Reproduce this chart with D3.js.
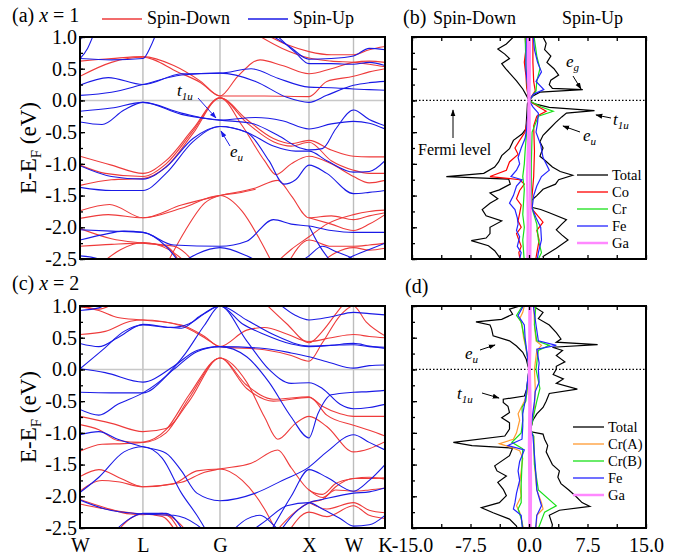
<!DOCTYPE html>
<html><head><meta charset="utf-8">
<script src="https://cdn.jsdelivr.net/npm/d3@7"></script>
<style>body{margin:0;background:#fff}text{font-family:"Liberation Serif","Times New Roman",serif;fill:#000}</style>
</head><body><svg id="c" width="693" height="559"></svg>
<script>
// ---------------- DATA ----------------
const kLabels = ["W","L","G","X","W","K"];
const kDist = [0, 0.707, 1.573, 2.573, 3.073, 3.427];
const eTicks = [1.0, 0.5, 0.0, -0.5, -1.0, -1.5, -2.0, -2.5];
const dosTicks = [-15, -7.5, 0, 7.5, 15];
// band points: [path index (0=W,1=L,2=G,3=X,4=W,5=K), energy eV]
const bandsA_down = [
 [[0,0.62],[0.5,0.66],[1,0.69],[1.4,0.55],[1.75,0.3],[2,0.07],[2.5,0.07],[3,0.06],[3.4,0.3],[4,0.38],[4.5,0.45],[5,0.5]],
 [[0,0.38],[0.5,0.6],[1,0.68],[1.45,0.45],[1.75,0.28],[2,0.07],[2.2,0.38],[2.45,0.64],[2.7,0.55],[3,0.42],[3.5,0.5],[4,0.6],[4.5,0.62],[5,0.6]],
 [[2.5,1.05],[2.75,0.88],[3,0.77],[3.5,0.72],[4,0.72],[4.5,0.8],[5,0.85]],
 [[2.4,1.05],[2.7,0.82],[3,0.67],[3.5,0.62],[4,0.6],[4.5,0.57],[5,0.53]],
 [[0,-0.88],[0.5,-1.02],[1,-1.15],[1.3,-0.95],[1.65,-0.45],[2,0.04],[2.25,-0.4],[2.5,-0.95],[2.63,-1.17],[2.8,-1.0],[3,-0.88],[3.5,-1.0],[4,-1.2],[4.5,-1.3],[5,-1.26]],
 [[0,-1.34],[0.5,-1.25],[1,-1.23],[1.3,-1.05],[1.65,-0.52],[2,0.04],[2.3,-0.3],[2.6,-0.6],[2.8,-0.68],[3,-0.63],[3.5,-0.78],[4,-0.88],[4.5,-0.89],[5,-0.89]],
 [[0,-1.02],[0.4,-1.15],[1,-1.2],[1.3,-1.0],[1.65,-0.48],[2,0.04],[2.3,-0.35],[2.6,-0.65],[2.8,-0.72],[3,-0.66],[3.5,-0.95],[4,-1.1],[4.5,-1.15],[5,-1.15]],
 [[0,-1.74],[0.47,-1.64],[1,-1.85],[1.5,-1.65],[2,-1.5],[2.4,-1.38],[2.65,-1.26],[2.8,-1.5],[3,-1.85],[3.5,-1.82],[4,-1.88],[4.5,-1.82],[5,-1.77]],
 [[0,-1.86],[0.45,-1.8],[1,-1.85],[1.5,-1.7],[2,-1.5],[2.25,-1.75],[2.45,-2.2],[2.6,-2.6]],
 [[1.3,-2.6],[1.55,-2.05],[1.8,-1.62],[2,-1.5],[2.2,-1.46],[2.4,-1.4]],
 [[0,-2.02],[0.5,-2.18],[1,-2.25],[1.4,-2.3],[1.7,-2.6]],
 [[0,-2.3],[0.5,-2.27],[1,-2.25],[1.3,-2.3],[1.5,-2.6]],
 [[0.3,-2.6],[0.65,-2.35],[1,-2.24],[1.35,-2.36],[1.6,-2.6]],
 [[2.6,-2.6],[2.8,-2.35],[3,-2.15],[3.4,-1.95],[4,-1.8],[4.5,-1.75],[5,-1.73]],
 [[3,-1.85],[3.5,-1.95],[4,-2.05],[4.5,-1.95],[5,-1.8]],
 [[2.75,-2.6],[3,-2.2],[3.5,-2.3],[4,-2.3],[4.5,-2.28],[5,-2.25]],
 [[3.2,-2.6],[3.6,-2.4],[4,-2.32],[4.5,-2.36],[5,-2.33]]
];
const bandsA_up = [
 [[0,0.95],[0.06,1.05]],
 [[0,0.66],[0.12,0.82],[0.22,1.05]],
 [[0,0.66],[0.5,0.64],[1,0.66],[1.1,0.85],[1.17,1.05]],
 [[0,0.24],[0.45,0.36],[1,0.25],[1.5,0.42],[2,0.43],[2.35,0.5],[2.65,0.35],[3,0.21],[3.5,0.2],[4,0.18],[4.5,0.17],[5,0.16]],
 [[0,0.08],[0.5,0.13],[1,0.25],[1.5,0.4],[2,0.43],[2.4,0.3],[2.75,0.05],[3,-0.03],[3.4,0.08],[4,0.24],[4.5,0.28],[5,0.3]],
 [[2.62,1.05],[2.85,0.75],[3,0.58],[3.5,0.58],[4,0.57],[4.5,0.6],[5,0.55]],
 [[2.55,1.05],[2.78,0.85],[3,0.65],[3.5,0.66],[4,0.7],[4.5,0.82],[5,0.8]],
 [[0,-0.17],[0.5,-0.12],[1,-0.03],[1.5,-0.2],[2,-0.31],[2.4,-0.27],[2.7,-0.32],[3,-0.45],[3.5,-0.37],[4,-0.33],[4.5,-0.36],[5,-0.45]],
 [[0,-0.34],[0.35,-0.38],[0.7,-0.15],[1,-0.03],[1.5,-0.22],[2,-0.31],[2.35,-0.36],[2.65,-0.55],[2.9,-0.75],[3,-0.78],[3.3,-0.76],[3.6,-0.45],[4,-0.15],[4.5,-0.3],[5,-0.4]],
 [[0,-1.37],[0.5,-1.42],[1,-1.42],[1.3,-1.15],[1.65,-0.65],[2,-0.41],[2.3,-0.5],[2.6,-0.72],[2.85,-0.8],[3,-0.8],[3.4,-0.95],[4,-1.13],[4.5,-1.12],[5,-0.95]],
 [[0,-1.03],[0.5,-1.2],[1,-1.24],[1.3,-1.05],[1.65,-0.6],[2,-0.41],[2.3,-0.5],[2.55,-0.95],[2.72,-1.32],[2.85,-1.25],[3,-1.02],[3.4,-1.15],[4,-1.47],[4.5,-1.45],[5,-1.42]],
 [[0,-2.04],[0.5,-2.06],[1,-2.08],[1.4,-2.28],[2,-2.3],[2.3,-2.22],[2.6,-1.88],[2.8,-1.95],[3,-1.98],[3.5,-2.05],[4,-2.08],[4.5,-2.08],[5,-2.08]],
 [[0,-2.2],[0.35,-2.12],[0.7,-2.06],[1,-2.08],[1.3,-2.3],[1.5,-2.6]],
 [[0,-2.45],[0.3,-2.5],[0.5,-2.6]],
 [[1.45,-2.6],[1.7,-2.42],[2,-2.32],[2.3,-2.45],[2.5,-2.6]],
 [[3,-1.98],[3.2,-2.25],[3.45,-2.5],[3.6,-2.6]],
 [[3.6,-2.6],[4,-2.45],[4.5,-2.35],[5,-2.25]],
 [[2.85,-2.6],[3,-2.45],[3.3,-2.3],[3.6,-2.38],[4,-2.5],[4.3,-2.6]]
];
const bandsC_down = [
 [[0,0.99],[0.3,0.93],[0.6,0.82],[1,0.78],[1.5,0.7],[1.8,0.52],[2,0.36],[2.3,0.62],[2.5,0.66],[2.75,0.56],[3,0.44],[3.5,0.5],[4,0.55],[4.5,0.52],[5,0.5]],
 [[0,0.55],[0.4,0.6],[0.8,0.76],[1,0.78],[1.5,0.69],[1.8,0.5],[2,0.36],[2.5,0.31],[2.8,0.22],[3,0.13],[3.3,0.42],[3.7,0.85],[4,1.0],[4.4,0.75],[5,0.53]],
 [[2.5,1.05],[2.75,0.72],[3,0.42],[3.3,0.6],[3.65,0.92],[3.8,1.05]],
 [[0,1.02],[0.3,0.95],[0.55,1.05]],
 [[0,-0.74],[0.5,-0.85],[1,-0.98],[1.3,-0.93],[1.6,-0.5],[2,0.18],[2.3,-0.2],[2.5,-0.75],[2.65,-1.1],[2.85,-0.85],[3,-0.74],[3.4,-0.9],[4,-1.3],[4.5,-1.25],[5,-1.14]],
 [[0,-0.87],[0.3,-0.95],[0.6,-1.12],[1,-1.15],[1.3,-1.0],[1.6,-0.45],[2,0.18],[2.3,-0.3],[2.6,-0.5],[3,-0.44],[3.3,-0.58],[3.7,-0.7],[4,-0.74],[4.5,-0.74],[5,-0.74]],
 [[0,-1.29],[0.35,-1.18],[0.7,-1.17],[1,-1.15],[1.3,-0.95],[1.6,-0.4],[2,0.18],[2.3,-0.25],[2.6,-0.47],[3,-0.43],[3.4,-0.72],[4,-0.88],[4.5,-0.96],[5,-1.05]],
 [[0,-1.69],[0.3,-1.58],[0.65,-1.72],[1,-1.85],[1.5,-1.78],[1.8,-1.62],[2,-1.57],[2.35,-1.48],[2.65,-1.27],[2.8,-1.55],[3,-1.9],[3.3,-1.97],[3.6,-1.8],[4,-1.72],[4.5,-1.7],[5,-1.73]],
 [[0,-1.92],[0.35,-1.75],[0.6,-1.77],[1,-1.85],[1.4,-1.8],[1.7,-1.6],[2,-1.57],[2.25,-1.75],[2.5,-2.2],[2.65,-2.6]],
 [[0,-2.12],[0.4,-2.2],[1,-2.28],[1.3,-2.3],[1.5,-2.6]],
 [[0,-2.05],[0.4,-2.18],[0.8,-2.28],[1,-2.29],[1.25,-2.27],[1.45,-2.4],[1.6,-2.6]],
 [[0.55,-2.6],[0.8,-2.35],[1,-2.28],[1.25,-2.32],[1.45,-2.6]],
 [[2.6,-2.6],[2.8,-2.3],[3,-2.1],[3.3,-2.05],[3.6,-1.85],[4,-1.72],[4.5,-1.72],[5,-1.71]],
 [[3,-1.9],[3.3,-2.02],[3.6,-1.9],[4,-1.92],[4.5,-1.9],[5,-1.87]],
 [[2.75,-2.6],[3,-2.25],[3.4,-2.32],[4,-2.15],[4.5,-2.3],[5,-2.35]],
 [[3,-2.1],[3.4,-2.2],[4,-2.1],[4.5,-2.22],[5,-2.26]]
];
const bandsC_up = [
 [[0,0.93],[0.3,0.97],[0.45,1.05]],
 [[0,0.41],[0.3,0.36],[0.6,0.5],[1,0.71],[1.3,0.67],[1.5,0.65],[1.75,0.85],[2,1.0],[2.3,0.78],[2.6,0.55],[3,0.37],[3.5,0.38],[4,0.39],[4.5,0.36],[5,0.35]],
 [[0,0.01],[0.35,0.3],[0.7,0.6],[1,0.7],[1.35,0.66],[1.6,0.72],[1.8,0.88],[2,1.0],[2.25,0.72],[2.5,0.55],[2.8,0.4],[3,0.36],[3.5,0.38],[4,0.41],[4.5,0.37],[5,0.33]],
 [[0,0.01],[0.4,-0.05],[1,-0.2],[1.4,0.05],[1.7,0.3],[2,0.36],[2.3,0.2],[2.55,-0.2],[2.8,-0.75],[3,-1.08],[3.2,-0.7],[3.5,-0.4],[4,-0.36],[4.5,-0.35],[5,-0.33]],
 [[0,-0.63],[0.3,-0.72],[0.6,-0.55],[1,-0.37],[1.3,-0.1],[1.55,0.25],[1.8,0.7],[2,1.0],[2.3,0.45],[2.55,0.0],[2.8,-0.22],[3,-0.21],[3.3,-0.3],[3.7,-0.55],[4,-0.62],[4.5,-0.6],[5,-0.55]],
 [[0,-0.36],[0.5,-0.37],[1,-0.37],[1.4,0.0],[1.7,0.28],[2,0.36],[2.5,0.33],[2.8,0.26],[3,0.2],[3.5,0.1],[4,0.02],[4.5,0.06],[5,0.07]],
 [[2.65,1.05],[2.85,0.85],[3,0.78],[3.5,0.83],[4,0.9],[4.5,0.88],[5,0.86]],
 [[0,-1.03],[0.3,-0.98],[0.6,-1.1],[1,-1.22],[1.3,-1.32],[1.5,-1.6],[1.7,-1.95],[2,-2.07],[2.4,-1.95],[2.7,-1.75],[3,-1.54],[3.4,-1.3],[4,-1.03],[4.5,-1.15],[5,-1.27]],
 [[0,-1.94],[0.3,-1.7],[0.7,-1.3],[1,-1.22],[1.25,-1.4],[1.5,-1.95],[1.7,-2.3],[1.85,-2.6]],
 [[0,-2.06],[0.4,-2.2],[1,-2.28],[1.4,-2.3],[1.7,-2.45],[1.85,-2.6]],
 [[0.5,-2.6],[0.75,-2.38],[1,-2.27],[1.3,-2.27],[1.55,-2.6]],
 [[2.55,-2.6],[2.8,-2.0],[3,-1.58],[3.4,-1.7],[4,-1.92],[4.5,-1.75],[5,-1.5]],
 [[2.65,-2.6],[2.85,-2.25],[3,-2.1],[3.3,-2.05],[4,-1.95],[4.5,-1.93],[5,-1.87]],
 [[2.3,-2.6],[2.5,-2.4],[2.75,-2.15],[3,-2.1],[3.3,-2.2],[3.7,-2.35],[4,-2.47],[4.5,-2.45],[5,-2.3]],
 [[2.1,-2.6],[2.3,-2.36],[2.45,-2.3],[2.6,-2.45],[2.7,-2.6]]
];
// DOS curves: [energy eV, DOS states/eV] (spin-down negative)
const dosB_totalDn = [[1.05,-2.0],[1.0,-2.0],[0.89,-2.9],[0.81,-4.0],[0.73,-3.1],[0.66,-2.5],[0.58,-3.5],[0.5,-3.0],[0.42,-2.4],[0.31,-1.6],[0.18,-0.8],[0.06,-0.25],[0.0,0],[-0.05,-0.2],[-0.26,-0.3],[-0.45,-0.4],[-0.53,-0.9],[-0.63,-2.0],[-0.76,-2.5],[-0.87,-3.5],[-0.97,-3.9],[-1.05,-4.4],[-1.15,-5.8],[-1.2,-10.6],[-1.24,-2.6],[-1.32,-2.4],[-1.41,-3.8],[-1.46,-5.0],[-1.55,-4.0],[-1.62,-5.0],[-1.72,-6.0],[-1.82,-5.5],[-1.9,-3.5],[-2.0,-5.0],[-2.1,-5.0],[-2.17,-5.5],[-2.21,-7.4],[-2.29,-5.2],[-2.37,-4.4],[-2.47,-3.8],[-2.55,-3.4]];
const dosB_totalUp = [[1.05,1.8],[1.0,1.8],[0.9,2.2],[0.8,2.0],[0.7,2.8],[0.6,2.3],[0.5,3.2],[0.4,3.8],[0.32,2.8],[0.25,2.6],[0.19,3.0],[0.17,6.9],[0.13,1.4],[0.07,0.5],[0.0,0],[-0.05,0.6],[-0.11,2.6],[-0.16,8.4],[-0.2,4.8],[-0.26,4.2],[-0.35,3.4],[-0.45,2.6],[-0.55,1.8],[-0.65,1.4],[-0.75,1.8],[-0.88,1.4],[-0.95,2.1],[-1.05,3.0],[-1.12,4.0],[-1.18,5.6],[-1.25,3.8],[-1.32,3.4],[-1.4,1.8],[-1.5,1.0],[-1.58,0.3],[-1.68,0.2],[-1.72,1.5],[-1.77,2.6],[-1.88,4.8],[-1.95,4.2],[-2.04,3.5],[-2.12,4.2],[-2.2,5.0],[-2.33,3.5],[-2.46,1.8],[-2.55,2.0]];
const dosB_CoDn = [[1.05,-0.5],[0.8,-0.4],[0.6,-0.6],[0.4,-0.4],[0.2,-0.3],[0.0,0],[-0.3,-0.2],[-0.5,-0.5],[-0.63,-1.2],[-0.75,-1.8],[-0.85,-1.4],[-0.97,-2.5],[-1.1,-2.9],[-1.2,-5.0],[-1.25,-1.2],[-1.32,-0.6],[-1.42,-1.2],[-1.55,-1.6],[-1.65,-1.0],[-1.78,-1.2],[-1.9,-1.4],[-2.0,-1.0],[-2.1,-1.6],[-2.2,-1.3],[-2.3,-1.0],[-2.4,-1.3],[-2.55,-1.1]];
const dosB_CoUp = [[1.05,0.5],[0.6,0.5],[0.3,0.6],[0.15,0.8],[0.0,0],[-0.1,1.2],[-0.17,2.2],[-0.25,1.0],[-0.4,0.6],[-0.8,0.7],[-1.2,0.6],[-1.5,0.4],[-1.7,0.3],[-1.8,1.0],[-1.92,1.8],[-2.05,1.0],[-2.2,1.3],[-2.55,0.8]];
const dosB_CrDn = [[1.05,-0.5],[0.6,-0.4],[0.2,-0.2],[0.0,0],[-0.5,-0.3],[-0.8,-0.5],[-1.0,-0.6],[-1.2,-0.8],[-1.4,-0.6],[-1.6,-0.7],[-1.8,-0.8],[-2.0,-0.6],[-2.2,-0.8],[-2.55,-0.6]];
const dosB_CrUp = [[1.05,0.6],[0.7,1.0],[0.5,1.4],[0.3,1.0],[0.15,0.9],[0.0,0],[-0.1,1.5],[-0.17,3.1],[-0.25,1.2],[-0.5,0.4],[-1.0,0.3],[-1.5,0.3],[-1.75,0.5],[-1.95,1.0],[-2.2,1.2],[-2.4,1.6],[-2.55,1.0]];
const dosB_FeDn = [[1.05,-0.3],[0.5,-0.4],[0.0,0],[-0.45,-0.3],[-0.6,-0.5],[-0.75,-1.0],[-0.9,-1.4],[-1.0,-1.2],[-1.1,-1.6],[-1.2,-2.3],[-1.25,-0.9],[-1.35,-1.6],[-1.5,-2.0],[-1.62,-2.5],[-1.72,-1.8],[-1.85,-1.5],[-1.95,-1.4],[-2.05,-1.6],[-2.15,-1.2],[-2.3,-1.5],[-2.4,-1.0],[-2.55,-1.3]];
const dosB_FeUp = [[1.05,0.5],[0.8,0.7],[0.6,1.1],[0.45,1.6],[0.3,0.9],[0.17,1.9],[0.1,0.6],[0.0,0],[-0.1,0.5],[-0.2,1.2],[-0.35,1.1],[-0.5,0.9],[-0.7,1.5],[-0.9,1.8],[-1.1,2.6],[-1.2,1.6],[-1.35,1.0],[-1.5,0.6],[-1.7,0.4],[-1.85,0.9],[-2.0,1.5],[-2.2,1.6],[-2.4,1.2],[-2.55,1.0]];
const dosB_GaDn = [[1.05,-0.15],[0.5,-0.12],[0.0,-0.05],[-0.6,-0.1],[-1.2,-0.25],[-1.8,-0.15],[-2.55,-0.2]];
const dosB_GaUp = [[1.05,0.12],[0.5,0.1],[0.0,0.05],[-0.6,0.1],[-1.2,0.12],[-1.9,0.2],[-2.55,0.15]];

const dosD_totalDn = [[1.05,-1.2],[1.0,-1.2],[0.95,-2.5],[0.87,-2.1],[0.79,-3.5],[0.75,-6.8],[0.7,-5.0],[0.64,-4.8],[0.53,-4.6],[0.45,-2.5],[0.37,-1.6],[0.27,-0.8],[0.16,-0.35],[0.06,-0.15],[0.0,0],[-0.15,-0.15],[-0.31,-0.3],[-0.42,-0.6],[-0.47,-3.3],[-0.52,-3.3],[-0.58,-2.7],[-0.68,-2.5],[-0.76,-3.5],[-0.84,-2.5],[-0.94,-2.5],[-1.05,-3.1],[-1.15,-9.7],[-1.2,-7.3],[-1.24,-2.1],[-1.36,-2.5],[-1.52,-4.4],[-1.6,-4.1],[-1.68,-2.9],[-1.78,-4.0],[-1.89,-3.3],[-1.99,-2.9],[-2.1,-3.8],[-2.18,-6.1],[-2.26,-4.6],[-2.36,-2.5],[-2.47,-1.6],[-2.57,-1.4]];
const dosD_totalUp = [[1.05,0.5],[1.0,0.5],[0.9,1.8],[0.8,1.2],[0.7,2.6],[0.58,3.5],[0.48,4.1],[0.43,3.5],[0.39,8.8],[0.35,3.0],[0.3,4.3],[0.22,3.5],[0.12,4.6],[0.05,3.5],[0.0,3.5],[-0.08,3.1],[-0.15,4.4],[-0.22,3.5],[-0.31,6.2],[-0.38,2.6],[-0.5,2.2],[-0.6,1.8],[-0.7,1.0],[-0.8,0.5],[-0.9,0.3],[-0.98,0.1],[-1.02,1.8],[-1.1,2.0],[-1.2,2.4],[-1.3,2.2],[-1.4,2.6],[-1.5,3.0],[-1.6,3.9],[-1.7,3.7],[-1.8,4.1],[-1.9,5.1],[-2.0,6.0],[-2.1,6.8],[-2.16,7.8],[-2.22,3.9],[-2.3,2.6],[-2.45,3.0],[-2.57,2.8]];
const dosD_CrADn = [[1.05,-0.5],[0.9,-0.8],[0.8,-1.2],[0.7,-0.9],[0.5,-0.7],[0.4,-0.5],[0.2,-0.2],[0.0,0],[-0.4,-0.3],[-0.5,-0.6],[-0.6,-1.0],[-0.7,-1.4],[-0.8,-1.2],[-1.0,-1.6],[-1.1,-2.0],[-1.17,-3.8],[-1.22,-2.5],[-1.28,-1.2],[-1.4,-0.8],[-1.6,-1.0],[-1.8,-1.2],[-2.0,-1.0],[-2.15,-1.6],[-2.25,-1.2],[-2.4,-0.9],[-2.57,-0.6]];
const dosD_CrAUp = [[1.05,0.6],[0.7,0.7],[0.45,0.9],[0.38,1.6],[0.3,1.0],[0.1,0.8],[0.0,0.7],[-0.3,0.8],[-0.6,0.7],[-0.95,0.2],[-1.0,0.1],[-1.05,0.6],[-1.5,0.7],[-1.9,1.0],[-2.1,1.6],[-2.2,1.8],[-2.3,1.0],[-2.57,0.9]];
const dosD_CrBDn = [[1.05,-0.6],[0.85,-1.6],[0.75,-1.0],[0.5,-0.6],[0.2,-0.2],[0.0,0],[-0.5,-0.4],[-0.6,-0.9],[-0.8,-0.8],[-1.0,-1.0],[-1.15,-2.2],[-1.25,-0.8],[-1.5,-0.9],[-1.8,-1.0],[-2.1,-1.0],[-2.2,-1.4],[-2.35,-1.0],[-2.57,-0.7]];
const dosD_CrBUp = [[1.05,0.9],[0.7,0.7],[0.45,1.0],[0.38,2.6],[0.3,1.2],[0.1,1.0],[0.0,0.9],[-0.3,1.4],[-0.5,1.0],[-0.95,0.2],[-1.05,0.6],[-1.5,0.7],[-1.9,1.2],[-2.15,3.5],[-2.25,2.0],[-2.57,1.0]];
const dosD_FeDn = [[1.05,-0.5],[0.85,-1.4],[0.7,-0.6],[0.5,-0.5],[0.2,-0.2],[0.0,0],[-0.5,-0.5],[-0.7,-0.8],[-0.9,-0.8],[-1.1,-0.9],[-1.2,-2.7],[-1.27,-0.6],[-1.45,-1.2],[-1.6,-1.4],[-1.75,-1.2],[-1.95,-1.6],[-2.1,-1.8],[-2.2,-2.0],[-2.3,-1.0],[-2.57,-0.8]];
const dosD_FeUp = [[1.05,0.5],[0.7,0.9],[0.45,1.2],[0.38,3.5],[0.32,1.0],[0.1,1.3],[0.0,1.2],[-0.2,1.3],[-0.35,0.8],[-0.5,0.7],[-0.95,0.2],[-1.05,0.5],[-1.5,0.8],[-1.9,1.0],[-2.15,1.6],[-2.3,1.0],[-2.57,0.8]];
const dosD_GaDn = [[1.05,0.05],[0.5,0.05],[0.0,0.0],[-0.6,0.05],[-1.2,0.0],[-1.9,0.05],[-2.57,0.05]];
const dosD_GaUp = [[1.05,0.2],[0.5,0.18],[0.0,0.1],[-0.6,0.2],[-1.2,0.22],[-1.9,0.25],[-2.57,0.2]];
const legendB = ["Total","Co","Cr","Fe","Ga"];
const legendD = ["Total","Cr(A)","Cr(B)","Fe","Ga"];

// ---------------- DRAWING ----------------
const svg = d3.select("#c");
const RED = "#ee3b3b", BLUE = "#1a1ae6";
const bandRange = [80, 385], dosRange = [412, 646];
const rows = [[37, 259], [306, 528]];
const tPos = d3.scaleLinear().domain([0,1,2,3,4,5]).range(kDist);
const xK = d3.scaleLinear().domain([0, kDist[5]]).range(bandRange);
const xD = d3.scaleLinear().domain([-15, 15]).range(dosRange);
const defs = svg.append("defs");
["#000", BLUE].forEach((c, i) => {
  defs.append("marker").attr("id", "ar" + i).attr("viewBox", "0 0 10 10").attr("refX", 9).attr("refY", 5)
    .attr("markerWidth", 7).attr("markerHeight", 7).attr("orient", "auto-start-reverse")
    .append("path").attr("d", "M0,1.5L10,5L0,8.5Z").attr("fill", c);
});
function yScale(r){ return d3.scaleLinear().domain([-2.5, 1]).range([rows[r][1], rows[r][0]]); }
function clip(id, x0, x1, r){
  defs.append("clipPath").attr("id", id).append("rect").attr("x", x0).attr("y", rows[r][0]).attr("width", x1 - x0).attr("height", rows[r][1] - rows[r][0]);
}
function leftTicks(g, y, x0, labels){
  const minor = d3.range(-2.5, 1.001, 0.25);
  g.append("g").attr("transform", `translate(${x0},0)`)
    .call(d3.axisLeft(y).tickValues(minor).tickSizeInner(-3).tickSizeOuter(0).tickFormat(""))
    .call(s => s.select(".domain").remove()).selectAll("line").attr("stroke-width", 1.3);
  const ax = g.append("g").attr("transform", `translate(${x0},0)`)
    .call(d3.axisLeft(y).tickValues(eTicks).tickSizeInner(-5).tickSizeOuter(0).tickPadding(3).tickFormat(labels ? (d => d.toFixed(1)) : ""));
  ax.select(".domain").remove();
  ax.selectAll("line").attr("stroke-width", 1.3);
  ax.selectAll("text").attr("font-size", 20).attr("font-family", "Liberation Serif");
}
function frame(g, x0, x1, r){
  g.append("rect").attr("x", x0).attr("y", rows[r][0]).attr("width", x1 - x0).attr("height", rows[r][1] - rows[r][0])
    .attr("fill", "none").attr("stroke", "#000").attr("stroke-width", 2);
}
function bandPanel(r, down, up, showX){
  const y = yScale(r), g = svg.append("g");
  const cid = "cb" + r; clip(cid, bandRange[0], bandRange[1], r);
  const gc = g.append("g").attr("clip-path", `url(#${cid})`);
  gc.selectAll("line.v").data(kDist.slice(1, 5)).join("line").attr("x1", d => xK(d)).attr("x2", d => xK(d))
    .attr("y1", rows[r][0]).attr("y2", rows[r][1]).attr("stroke", "#bdbdbd").attr("stroke-width", 1.4);
  gc.append("line").attr("x1", bandRange[0]).attr("x2", bandRange[1]).attr("y1", y(0)).attr("y2", y(0)).attr("stroke", "#c8c8c8").attr("stroke-width", 1.4);
  const line = d3.line().x(d => xK(tPos(d[0]))).y(d => y(d[1])).curve(d3.curveMonotoneX);
  gc.selectAll("path.dn").data(down).join("path").attr("d", line).attr("fill", "none").attr("stroke", RED).attr("stroke-width", 1.1);
  gc.selectAll("path.up").data(up).join("path").attr("d", line).attr("fill", "none").attr("stroke", BLUE).attr("stroke-width", 1.1);
  frame(g, bandRange[0], bandRange[1], r);
  leftTicks(g, y, bandRange[0], true);
  if (showX){
    const ax = g.append("g").attr("transform", `translate(0,${rows[r][1]})`)
      .call(d3.axisBottom(xK).tickValues(kDist).tickSize(0).tickPadding(10).tickFormat((d, i) => kLabels[i]));
    ax.select(".domain").remove();
    ax.selectAll("text").attr("font-size", 20).attr("font-family", "Liberation Serif");
  }
  const tt = g.append("text").attr("transform", `translate(36,${(rows[r][0] + rows[r][1]) / 2}) rotate(-90)`)
    .attr("text-anchor", "middle").attr("font-size", 23);
  tt.append("tspan").text("E-E");
  tt.append("tspan").attr("font-size", 15).attr("dy", 5).text("F");
  tt.append("tspan").attr("dy", -5).text(" (eV)");
  return y;
}
function dosPanel(r, curves, showX){
  const y = yScale(r), g = svg.append("g");
  const cid = "cd" + r; clip(cid, dosRange[0], dosRange[1], r);
  const gc = g.append("g").attr("clip-path", `url(#${cid})`);
  gc.append("line").attr("x1", dosRange[0]).attr("x2", dosRange[1]).attr("y1", y(0)).attr("y2", y(0))
    .attr("stroke", "#000").attr("stroke-width", 1.2).attr("stroke-dasharray", "1.5,2");
  const line = d3.line().x(d => xD(d[1])).y(d => y(d[0]));
  curves.forEach(c => {
    gc.append("path").attr("d", line(c.data)).attr("fill", "none").attr("stroke", c.color).attr("stroke-width", c.w || 1.2);
  });
  frame(g, dosRange[0], dosRange[1], r);
  leftTicks(g, y, dosRange[0], false);
  const xt = d3.range(-15, 15.001, 3.75);
  [["axisBottom", rows[r][1], -4], ["axisTop", rows[r][0], -4]].forEach(([fn, yy, sz]) => {
    const a = g.append("g").attr("transform", `translate(0,${yy})`)
      .call(d3[fn](xD).tickValues(xt).tickSizeInner(sz).tickSizeOuter(0).tickFormat(""));
    a.select(".domain").remove(); a.selectAll("line").attr("stroke-width", 1.3);
  });
  if (showX){
    const ax = g.append("g").attr("transform", `translate(0,${rows[r][1]})`)
      .call(d3.axisBottom(xD).tickValues(dosTicks).tickSize(0).tickPadding(10).tickFormat(d => d.toFixed(1)));
    ax.select(".domain").remove();
    ax.selectAll("text").attr("font-size", 20).attr("font-family", "Liberation Serif");
  }
  return y;
}
function legend(x, y0, names, colors){
  names.forEach((n, i) => {
    const yy = y0 + i * 17;
    svg.append("line").attr("x1", x).attr("x2", x + 31).attr("y1", yy).attr("y2", yy).attr("stroke", colors[i]).attr("stroke-width", i === 4 ? 2.5 : 1.3);
    svg.append("text").attr("x", x + 35).attr("y", yy + 5).attr("font-size", 14.5).text(n);
  });
}
function label(x, y, main, sub, size){
  const t = svg.append("text").attr("x", x).attr("y", y).attr("font-size", size || 17).attr("font-style", "italic");
  t.append("tspan").text(main);
  t.append("tspan").attr("font-size", (size || 17) * 0.65).attr("dy", 4).text(sub);
}
function arrow(x1, y1, x2, y2, c){
  svg.append("line").attr("x1", x1).attr("y1", y1).attr("x2", x2).attr("y2", y2).attr("stroke", c).attr("stroke-width", 1)
    .attr("marker-end", `url(#ar${c === BLUE ? 1 : 0})`);
}

const GREEN = "#19e019", FEB = "#2424ff", PINK = "#ff88ff", ORANGE = "#ff9a30";
bandPanel(0, bandsA_down, bandsA_up, false);
bandPanel(1, bandsC_down, bandsC_up, true);
dosPanel(0, [
  {data: dosB_totalDn, color: "#000"}, {data: dosB_totalUp, color: "#000"},
  {data: dosB_CoDn, color: "#ff0000"}, {data: dosB_CoUp, color: "#ff0000"},
  {data: dosB_CrDn, color: GREEN}, {data: dosB_CrUp, color: GREEN},
  {data: dosB_FeDn, color: FEB}, {data: dosB_FeUp, color: FEB},
  {data: dosB_GaDn, color: PINK, w: 2.4}, {data: dosB_GaUp, color: PINK, w: 2.4}
], false);
dosPanel(1, [
  {data: dosD_totalDn, color: "#000"}, {data: dosD_totalUp, color: "#000"},
  {data: dosD_CrADn, color: ORANGE}, {data: dosD_CrAUp, color: ORANGE},
  {data: dosD_CrBDn, color: GREEN}, {data: dosD_CrBUp, color: GREEN},
  {data: dosD_FeDn, color: FEB}, {data: dosD_FeUp, color: FEB},
  {data: dosD_GaDn, color: PINK, w: 2.4}, {data: dosD_GaUp, color: PINK, w: 2.4}
], true);

function title(x, y, parts){
  const t = svg.append("text").attr("x", x).attr("y", y).attr("font-size", 20);
  parts.forEach(p => t.append("tspan").attr("font-style", p[1] ? "italic" : null).text(p[0]));
}
title(12, 22, [["(a) ", 0], ["x", 1], [" = 1", 0]]);
title(12, 290, [["(c) ", 0], ["x", 1], [" = 2", 0]]);
title(403, 24, [["(b)", 0]]);
title(405, 293, [["(d)", 0]]);
svg.append("text").attr("x", 433).attr("y", 24).attr("font-size", 18).text("Spin-Down");
svg.append("text").attr("x", 562).attr("y", 24).attr("font-size", 18).text("Spin-Up");
svg.append("line").attr("x1", 102).attr("x2", 142).attr("y1", 19).attr("y2", 19).attr("stroke", RED).attr("stroke-width", 1.3);
svg.append("text").attr("x", 147).attr("y", 24).attr("font-size", 18).text("Spin-Down");
svg.append("line").attr("x1", 248).attr("x2", 288).attr("y1", 19).attr("y2", 19).attr("stroke", BLUE).attr("stroke-width", 1.3);
svg.append("text").attr("x", 293).attr("y", 24).attr("font-size", 18).text("Spin-Up");
legend(577, 175, legendB, ["#000", "#ff0000", GREEN, FEB, PINK]);
legend(573, 427, legendD, ["#000", ORANGE, GREEN, FEB, PINK]);

label(177, 96, "t", "1u");
arrow(198, 98, 216, 118, BLUE);
label(230, 157, "e", "u");
arrow(230, 146, 221, 131, BLUE);
label(566, 67, "e", "g");
arrow(573, 76, 581, 89, "#000");
label(613, 125, "t", "1u");
arrow(611, 118, 596, 115, "#000");
label(583, 141, "e", "u");
arrow(580, 132, 563, 126, "#000");
svg.append("text").attr("x", 418).attr("y", 155).attr("font-size", 16).text("Fermi level");
arrow(453, 138, 453, 110, "#000");
label(465, 359, "e", "u");
arrow(480, 350, 495, 345, "#000");
label(457, 399, "t", "1u");
arrow(482, 393, 499, 398, "#000");
</script></body></html>
